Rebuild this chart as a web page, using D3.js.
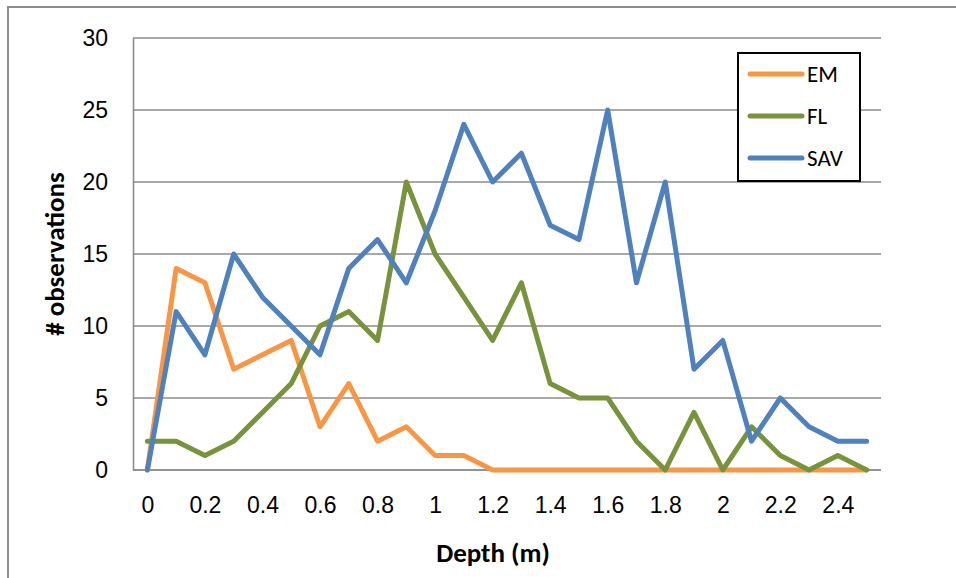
<!DOCTYPE html>
<html>
<head>
<meta charset="utf-8">
<script src="https://cdn.jsdelivr.net/npm/d3@7"></script>
<style>
  body { margin: 0; background: #fff; }
  svg { display: block; font-family: Carlito, Calibri, Lato, sans-serif; }
</style>
</head>
<body>
<svg id="graph" width="956" height="578"></svg>
<script>
// depth categories (m)
var depths = ["0","0.1","0.2","0.3","0.4","0.5","0.6","0.7","0.8","0.9","1","1.1","1.2",
              "1.3","1.4","1.5","1.6","1.7","1.8","1.9","2","2.1","2.2","2.3","2.4","2.5"];
var emValues  = [0,14,13,7,8,9,3,6,2,3,1,1,0,0,0,0,0,0,0,0,0,0,0,0,0,0];
var flValues  = [2,2,1,2,4,6,10,11,9,20,15,12,9,13,6,5,5,2,0,4,0,3,1,0,1,0];
var savValues = [0,11,8,15,12,10,8,14,16,13,18,24,20,22,17,16,25,13,20,7,9,2,5,3,2,2];
var yTicks = [0,5,10,15,20,25,30];
var xLabelCats = ["0","0.2","0.4","0.6","0.8","1","1.2","1.4","1.6","1.8","2","2.2","2.4"];
var seriesNames = ["EM","FL","SAV"];
var seriesColors = ["#F79646","#77933C","#4F81BD"];

var svg = d3.select("#graph");
var plotLeft = 133, plotRight = 881, plotTop = 38, plotBottom = 470;

// outer chart frame
svg.append("rect")
  .attr("x", 8).attr("y", 7)
  .attr("width", 1000).attr("height", 1000)
  .attr("fill", "none").attr("stroke", "#8c8c8c").attr("stroke-width", 2);

var x = d3.scalePoint().domain(depths).range([plotLeft, plotRight]).padding(0.5);
var y = d3.scaleLinear().domain([0, 30]).range([plotBottom, plotTop]);

// gridlines
svg.append("g").selectAll("line")
  .data(yTicks)
  .enter()
  .append("line")
  .attr("x1", plotLeft).attr("x2", plotRight)
  .attr("y1", function(d) { return y(d); })
  .attr("y2", function(d) { return y(d); })
  .attr("stroke", "#8c8c8c").attr("stroke-width", 1.6);

// y axis
var yAxis = svg.append("g")
  .attr("transform", "translate(" + plotLeft + ",0)")
  .call(d3.axisLeft(y).tickValues(yTicks).tickSize(0).tickPadding(25));
yAxis.select(".domain").attr("stroke", "#8c8c8c").attr("stroke-width", 1.6);
yAxis.selectAll("text").attr("font-size", 23).attr("fill", "#000");

// x axis
var xAxis = svg.append("g")
  .attr("transform", "translate(0," + plotBottom + ")")
  .call(d3.axisBottom(x).tickValues(xLabelCats).tickSize(0).tickPadding(27));
xAxis.select(".domain").attr("stroke", "#8c8c8c").attr("stroke-width", 1.6)
  .attr("d", "M" + plotLeft + ",0H" + plotRight);
xAxis.selectAll("text").attr("font-size", 23).attr("fill", "#000");

// series lines
var allSeries = [emValues, flValues, savValues];
var line = d3.line()
  .x(function(d, i) { return x(depths[i]); })
  .y(function(d) { return y(d); });

svg.append("g").selectAll("path")
  .data(allSeries)
  .enter()
  .append("path")
  .attr("d", line)
  .attr("fill", "none")
  .attr("stroke", function(d, i) { return seriesColors[i]; })
  .attr("stroke-width", 5)
  .attr("stroke-linejoin", "round")
  .attr("stroke-linecap", "round");

// legend
var legend = svg.append("g");
legend.append("rect")
  .attr("x", 738).attr("y", 53)
  .attr("width", 122).attr("height", 128)
  .attr("fill", "#fff").attr("stroke", "#000").attr("stroke-width", 2);
var items = legend.selectAll("g.item")
  .data(seriesNames)
  .enter()
  .append("g")
  .attr("transform", function(d, i) { return "translate(0," + (74 + i * 42) + ")"; });
items.append("line")
  .attr("x1", 750).attr("x2", 802)
  .attr("stroke", function(d, i) { return seriesColors[i]; })
  .attr("stroke-width", 5)
  .attr("stroke-linecap", "round");
items.append("text")
  .attr("x", 807).attr("y", 8)
  .attr("font-size", 23)
  .text(function(d) { return d; });

// axis titles
svg.append("text")
  .attr("x", 493).attr("y", 562)
  .attr("text-anchor", "middle")
  .attr("font-size", 27).attr("font-weight", "bold")
  .text("Depth (m)");
svg.append("text")
  .attr("transform", "translate(64,254) rotate(-90)")
  .attr("text-anchor", "middle")
  .attr("font-size", 27).attr("font-weight", "bold")
  .text("# observations");
</script>
</body>
</html>
